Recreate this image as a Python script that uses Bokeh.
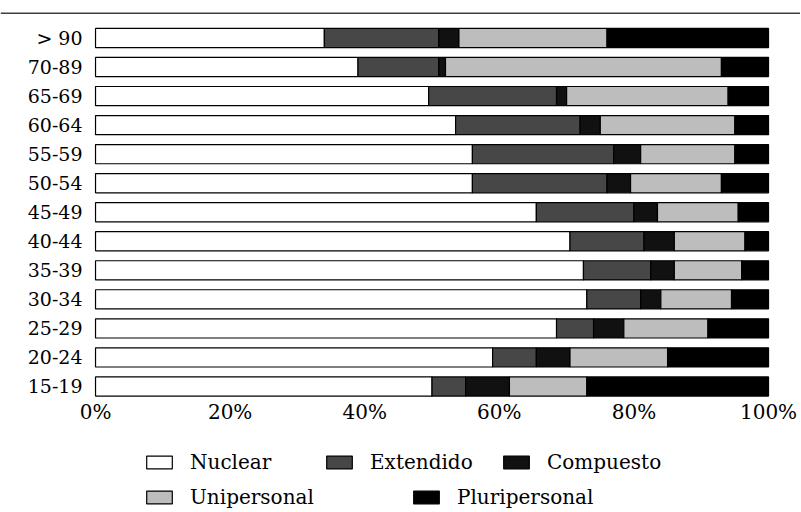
from bokeh.plotting import figure
from bokeh.models import ColumnDataSource, Range1d, Legend, LegendItem, Span
from bokeh.core.properties import value
from bokeh.embed import file_html
from bokeh.resources import INLINE

# ---- data (percent of households by age group of head) ----
categories = ["> 90", "70-89", "65-69", "60-64", "55-59", "50-54", "45-49",
              "40-44", "35-39", "30-34", "25-29", "20-24", "15-19"]
nuclear = [34, 39, 49.5, 53.5, 56, 56, 65.5, 70.5, 72.5, 73, 68.5, 59, 50]
extendido = [17, 12, 19, 18.5, 21, 20, 14.5, 11, 10, 8, 5.5, 6.5, 5]
compuesto = [3, 1, 1.5, 3, 4, 3.5, 3.5, 4.5, 3.5, 3, 4.5, 5, 6.5]
unipersonal = [22, 41, 24, 20, 14, 13.5, 12, 10.5, 10, 10.5, 12.5, 14.5, 11.5]
pluripersonal = [24, 7, 6, 5, 5, 7, 4.5, 3.5, 4, 5.5, 9, 15, 27]
series_names = ["Nuclear", "Extendido", "Compuesto", "Unipersonal", "Pluripersonal"]
tick_values = [0, 20, 40, 60, 80, 100]
tick_labels = ["0%", "20%", "40%", "60%", "80%", "100%"]

colors = ["#ffffff", "#474747", "#111111", "#bdbdbd", "#000000"]
FONT = "DejaVu Serif"

n = len(categories)
ypos = list(range(n - 1, -1, -1))
source = ColumnDataSource(dict(cat=categories, y=ypos, Nuclear=nuclear, Extendido=extendido,
                               Compuesto=compuesto, Unipersonal=unipersonal,
                               Pluripersonal=pluripersonal))
ticks = ColumnDataSource(dict(x=tick_values, t=tick_labels))

p = figure(width=800, height=510, output_backend="svg", toolbar_location=None,
           x_range=Range1d(-14.12, 104.75), y_range=Range1d(-4.271, 12.878),
           x_axis_location=None, y_axis_location=None,
           min_border_left=0, min_border_right=0, min_border_top=12, min_border_bottom=0)
p.outline_line_color = None
p.xgrid.visible = False
p.ygrid.visible = False

renderers = p.hbar_stack(series_names, y="y", height=0.66, color=colors,
                         line_color="black", line_width=1.2, source=source)

# category labels (left) and percentage tick labels (bottom)
p.text(x=-1.93, y="y", text="cat", source=source, text_align="right",
       text_baseline="middle", text_font=value(FONT), text_font_size=value("19px"),
       text_color="black")
p.text(x="x", y=-0.46, text="t", source=ticks, text_align="center",
       text_baseline="top", text_font=value(FONT), text_font_size=value("20px"),
       text_color="black")

p.add_layout(Span(location=12.86, dimension="width", line_color="black", line_width=1.5))

legend_locs = [(143, 36), (323, 36), (500, 36), (143, 1), (410, 1)]
for name, r, loc in zip(series_names, renderers, legend_locs):
    leg = Legend(items=[LegendItem(label=name, renderers=[r])], location=loc,
                 orientation="horizontal", glyph_width=32, glyph_height=16,
                 label_standoff=15, padding=0, margin=0, spacing=0,
                 border_line_color=None, background_fill_alpha=0,
                 label_text_font=FONT, label_text_font_size="20px",
                 label_text_color="black")
    p.add_layout(leg)

open("out.html", "w").write(file_html(p, INLINE))
